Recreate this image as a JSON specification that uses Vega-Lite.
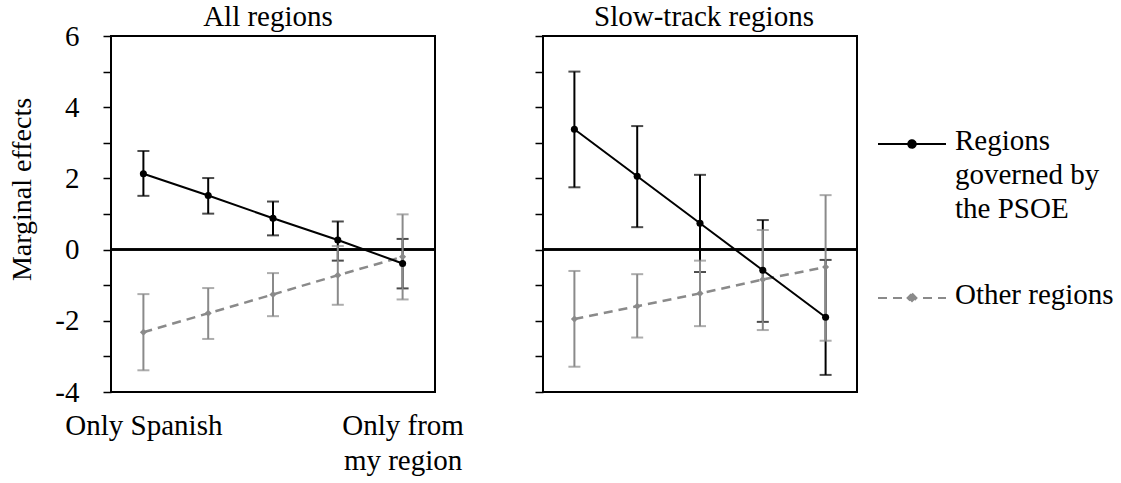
{
  "$schema": "https://vega.github.io/schema/vega-lite/v6.json",
  "background": "white",
  "padding": {"left": 6, "top": 2, "right": 5, "bottom": 5},
  "config": {
    "font": "Liberation Serif",
    "view": {"stroke": "black", "strokeWidth": 2},
    "text": {"font": "Liberation Serif"},
    "title": {"font": "Liberation Serif", "fontSize": 29, "fontWeight": "normal", "color": "black"},
    "axis": {"labelFont": "Liberation Serif", "titleFont": "Liberation Serif", "labelColor": "black", "titleColor": "black", "grid": false},
    "legend": {"labelFont": "Liberation Serif", "labelFontSize": 29, "labelColor": "black"}
  },
  "data": {"values": [
    {"panel": "All regions", "series": "Regions governed by the PSOE", "level": 1, "est": 2.13, "lo": 1.51, "hi": 2.77},
    {"panel": "All regions", "series": "Regions governed by the PSOE", "level": 2, "est": 1.52, "lo": 1.01, "hi": 2.01},
    {"panel": "All regions", "series": "Regions governed by the PSOE", "level": 3, "est": 0.88, "lo": 0.40, "hi": 1.35},
    {"panel": "All regions", "series": "Regions governed by the PSOE", "level": 4, "est": 0.27, "lo": -0.31, "hi": 0.79},
    {"panel": "All regions", "series": "Regions governed by the PSOE", "level": 5, "est": -0.39, "lo": -1.09, "hi": 0.30},
    {"panel": "All regions", "series": "Other regions", "level": 1, "est": -2.32, "lo": -3.39, "hi": -1.25},
    {"panel": "All regions", "series": "Other regions", "level": 2, "est": -1.79, "lo": -2.51, "hi": -1.08},
    {"panel": "All regions", "series": "Other regions", "level": 3, "est": -1.26, "lo": -1.87, "hi": -0.66},
    {"panel": "All regions", "series": "Other regions", "level": 4, "est": -0.72, "lo": -1.55, "hi": 0.10},
    {"panel": "All regions", "series": "Other regions", "level": 5, "est": -0.20, "lo": -1.40, "hi": 0.99},
    {"panel": "Slow-track regions", "series": "Regions governed by the PSOE", "level": 1, "est": 3.38, "lo": 1.75, "hi": 5.00},
    {"panel": "Slow-track regions", "series": "Regions governed by the PSOE", "level": 2, "est": 2.06, "lo": 0.63, "hi": 3.47},
    {"panel": "Slow-track regions", "series": "Regions governed by the PSOE", "level": 3, "est": 0.74, "lo": -0.63, "hi": 2.10},
    {"panel": "Slow-track regions", "series": "Regions governed by the PSOE", "level": 4, "est": -0.58, "lo": -2.03, "hi": 0.83},
    {"panel": "Slow-track regions", "series": "Regions governed by the PSOE", "level": 5, "est": -1.90, "lo": -3.52, "hi": -0.29},
    {"panel": "Slow-track regions", "series": "Other regions", "level": 1, "est": -1.95, "lo": -3.29, "hi": -0.60},
    {"panel": "Slow-track regions", "series": "Other regions", "level": 2, "est": -1.59, "lo": -2.47, "hi": -0.69},
    {"panel": "Slow-track regions", "series": "Other regions", "level": 3, "est": -1.23, "lo": -2.15, "hi": -0.31},
    {"panel": "Slow-track regions", "series": "Other regions", "level": 4, "est": -0.84, "lo": -2.26, "hi": 0.55},
    {"panel": "Slow-track regions", "series": "Other regions", "level": 5, "est": -0.49, "lo": -2.56, "hi": 1.53}
  ]},
  "spacing": 108,
  "bounds": "flush",
  "hconcat": [
    {
      "width": 324,
      "height": 356,
      "title": {"text": "All regions", "offset": -10, "frame": "group", "anchor": "middle", "dx": -5, "font": "Liberation Serif"},
      "transform": [{"filter": "datum.panel === 'All regions'"}],
      "encoding": {
        "x": {"field": "level", "type": "quantitative", "scale": {"domain": [0.5, 5.5], "nice": false, "zero": false},
              "axis": {"values": [1, 5], "ticks": false, "domain": false, "title": null, "labelFont": "Liberation Serif", "labelFontSize": 29, "labelPadding": 19, "labelLineHeight": 35,
                       "labelExpr": "datum.value === 1 ? 'Only Spanish' : ['Only from', 'my region']", "labelFlush": false, "labelOverlap": false}},
        "y": {"type": "quantitative", "scale": {"domain": [-4, 6], "nice": false, "zero": false},
              "axis": {"values": [-4, -3, -2, -1, 0, 1, 2, 3, 4, 5, 6], "labelExpr": "datum.value % 2 === 0 ? '' + datum.value : ''",
                       "domain": false, "tickSize": 8, "tickWidth": 1.5, "tickColor": "black", "labelFont": "Liberation Serif", "labelFontSize": 29, "labelPadding": 24,
                       "title": "Marginal effects", "titleFont": "Liberation Serif", "titleFontSize": 28, "titleFontWeight": "normal", "titleX": -75, "titleY": 153}}
      },
      "layer": [
        {"mark": {"type": "rule", "color": "black", "strokeWidth": 1.5}, "encoding": {"y": {"datum": 0}, "x": null}},
        {"transform": [{"filter": "datum.series === 'Regions governed by the PSOE'"}],
         "layer": [
          {"mark": {"type": "rule", "strokeWidth": 2}, "encoding": {"y": {"field": "lo"}, "y2": {"field": "hi"}, "color": {"field": "series", "type": "nominal", "scale": {"domain": ["Regions governed by the PSOE", "Other regions"], "range": ["#000000", "#8a8a8a"]}}}},
          {"mark": {"type": "tick", "orient": "horizontal", "size": 12, "thickness": 2}, "encoding": {"y": {"field": "lo"}, "color": {"field": "series", "type": "nominal"}}},
          {"mark": {"type": "tick", "orient": "horizontal", "size": 12, "thickness": 2}, "encoding": {"y": {"field": "hi"}, "color": {"field": "series", "type": "nominal"}}}
         ]},
        {"transform": [{"filter": "datum.series === 'Other regions'"}],
         "layer": [
          {"mark": {"type": "rule", "strokeWidth": 2}, "encoding": {"y": {"field": "lo"}, "y2": {"field": "hi"}, "color": {"field": "series", "type": "nominal"}}},
          {"mark": {"type": "tick", "orient": "horizontal", "size": 12, "thickness": 2}, "encoding": {"y": {"field": "lo"}, "color": {"field": "series", "type": "nominal"}}},
          {"mark": {"type": "tick", "orient": "horizontal", "size": 12, "thickness": 2}, "encoding": {"y": {"field": "hi"}, "color": {"field": "series", "type": "nominal"}}},
          {"mark": {"type": "line", "strokeWidth": 2.5, "strokeDash": [9, 6]}, "encoding": {"y": {"field": "est"}, "color": {"field": "series", "type": "nominal"}}},
          {"mark": {"type": "point", "filled": true, "shape": "diamond", "size": 50, "opacity": 1}, "encoding": {"y": {"field": "est"}, "color": {"field": "series", "type": "nominal"}}}
         ]},
        {"transform": [{"filter": "datum.series === 'Regions governed by the PSOE'"}],
         "layer": [
          {"mark": {"type": "line", "strokeWidth": 2}, "encoding": {"y": {"field": "est"}, "color": {"field": "series", "type": "nominal"}}},
          {"mark": {"type": "point", "filled": true, "shape": "circle", "size": 50, "opacity": 1}, "encoding": {"y": {"field": "est"}, "color": {"field": "series", "type": "nominal"}}}
         ]}
      ]
    },
    {
      "width": 314,
      "height": 356,
      "title": {"text": "Slow-track regions", "offset": 3, "frame": "group", "anchor": "middle", "dx": 4, "font": "Liberation Serif"},
      "transform": [{"filter": "datum.panel === 'Slow-track regions'"}],
      "encoding": {
        "x": {"field": "level", "type": "quantitative", "scale": {"domain": [0.5, 5.5], "nice": false, "zero": false}, "axis": null},
        "y": {"type": "quantitative", "scale": {"domain": [-4, 6], "nice": false, "zero": false},
              "axis": {"values": [-4, -3, -2, -1, 0, 1, 2, 3, 4, 5, 6], "labels": false, "domain": false, "tickSize": 8, "tickWidth": 1.5, "tickColor": "black", "title": null}}
      },
      "layer": [
        {"mark": {"type": "rule", "color": "black", "strokeWidth": 1.5}, "encoding": {"y": {"datum": 0}, "x": null}},
        {"transform": [{"filter": "datum.series === 'Regions governed by the PSOE'"}],
         "layer": [
          {"mark": {"type": "rule", "strokeWidth": 2}, "encoding": {"y": {"field": "lo"}, "y2": {"field": "hi"}, "color": {"field": "series", "type": "nominal"}}},
          {"mark": {"type": "tick", "orient": "horizontal", "size": 12, "thickness": 2}, "encoding": {"y": {"field": "lo"}, "color": {"field": "series", "type": "nominal"}}},
          {"mark": {"type": "tick", "orient": "horizontal", "size": 12, "thickness": 2}, "encoding": {"y": {"field": "hi"}, "color": {"field": "series", "type": "nominal"}}}
         ]},
        {"transform": [{"filter": "datum.series === 'Other regions'"}],
         "layer": [
          {"mark": {"type": "rule", "strokeWidth": 2}, "encoding": {"y": {"field": "lo"}, "y2": {"field": "hi"}, "color": {"field": "series", "type": "nominal"}}},
          {"mark": {"type": "tick", "orient": "horizontal", "size": 12, "thickness": 2}, "encoding": {"y": {"field": "lo"}, "color": {"field": "series", "type": "nominal"}}},
          {"mark": {"type": "tick", "orient": "horizontal", "size": 12, "thickness": 2}, "encoding": {"y": {"field": "hi"}, "color": {"field": "series", "type": "nominal"}}},
          {"mark": {"type": "line", "strokeWidth": 2.5, "strokeDash": [9, 6]}, "encoding": {"y": {"field": "est"}, "color": {"field": "series", "type": "nominal"}}},
          {"mark": {"type": "point", "filled": true, "shape": "diamond", "size": 50, "opacity": 1}, "encoding": {"y": {"field": "est"}, "color": {"field": "series", "type": "nominal"}}}
         ]},
        {"transform": [{"filter": "datum.series === 'Regions governed by the PSOE'"}],
         "layer": [
          {"mark": {"type": "line", "strokeWidth": 2}, "encoding": {"y": {"field": "est"}, "color": {"field": "series", "type": "nominal",
             "legend": {"title": null, "orient": "none", "legendX": 766, "legendY": 73, "padding": 0,
                        "symbolType": "M-1,0H1M-0.12,0A0.12,0.12,0,1,1,0.12,0A0.12,0.12,0,1,1,-0.12,0Z",
                        "symbolSize": 4624, "symbolStrokeWidth": 2, "labelOffset": 8, "rowPadding": 39, "labelLimit": 400,
                        "labelFont": "Liberation Serif", "labelFontSize": 29,
                        "encode": {
                          "symbols": {"update": {
                            "shape": {"signal": "datum.value === 'Other regions' ? 'M-1,0H1M0,-0.13L0.13,0L0,0.13L-0.13,0Z' : 'M-1,0H1M-0.11,0A0.11,0.11,0,1,1,0.11,0A0.11,0.11,0,1,1,-0.11,0Z'"},
                            "fill": {"signal": "datum.value === 'Other regions' ? '#8a8a8a' : '#000000'"},
                            "stroke": {"signal": "datum.value === 'Other regions' ? '#8a8a8a' : '#000000'"},
                            "strokeDash": {"signal": "datum.value === 'Other regions' ? [9, 6] : [1, 0]"},
                            "opacity": {"value": 1}
                          }},
                          "labels": {"update": {
                            "text": {"signal": "datum.value === 'Other regions' ? 'Other regions' : ['Regions', 'governed by', 'the PSOE']"},
                            "font": {"value": "Liberation Serif"},
                            "baseline": {"value": "top"},
                            "dy": {"value": -17},
                            "lineHeight": {"value": 34}
                          }}
                        }}}}},
          {"mark": {"type": "point", "filled": true, "shape": "circle", "size": 50, "opacity": 1}, "encoding": {"y": {"field": "est"}, "color": {"field": "series", "type": "nominal"}}}
         ]}
      ]
    }
  ]
}
